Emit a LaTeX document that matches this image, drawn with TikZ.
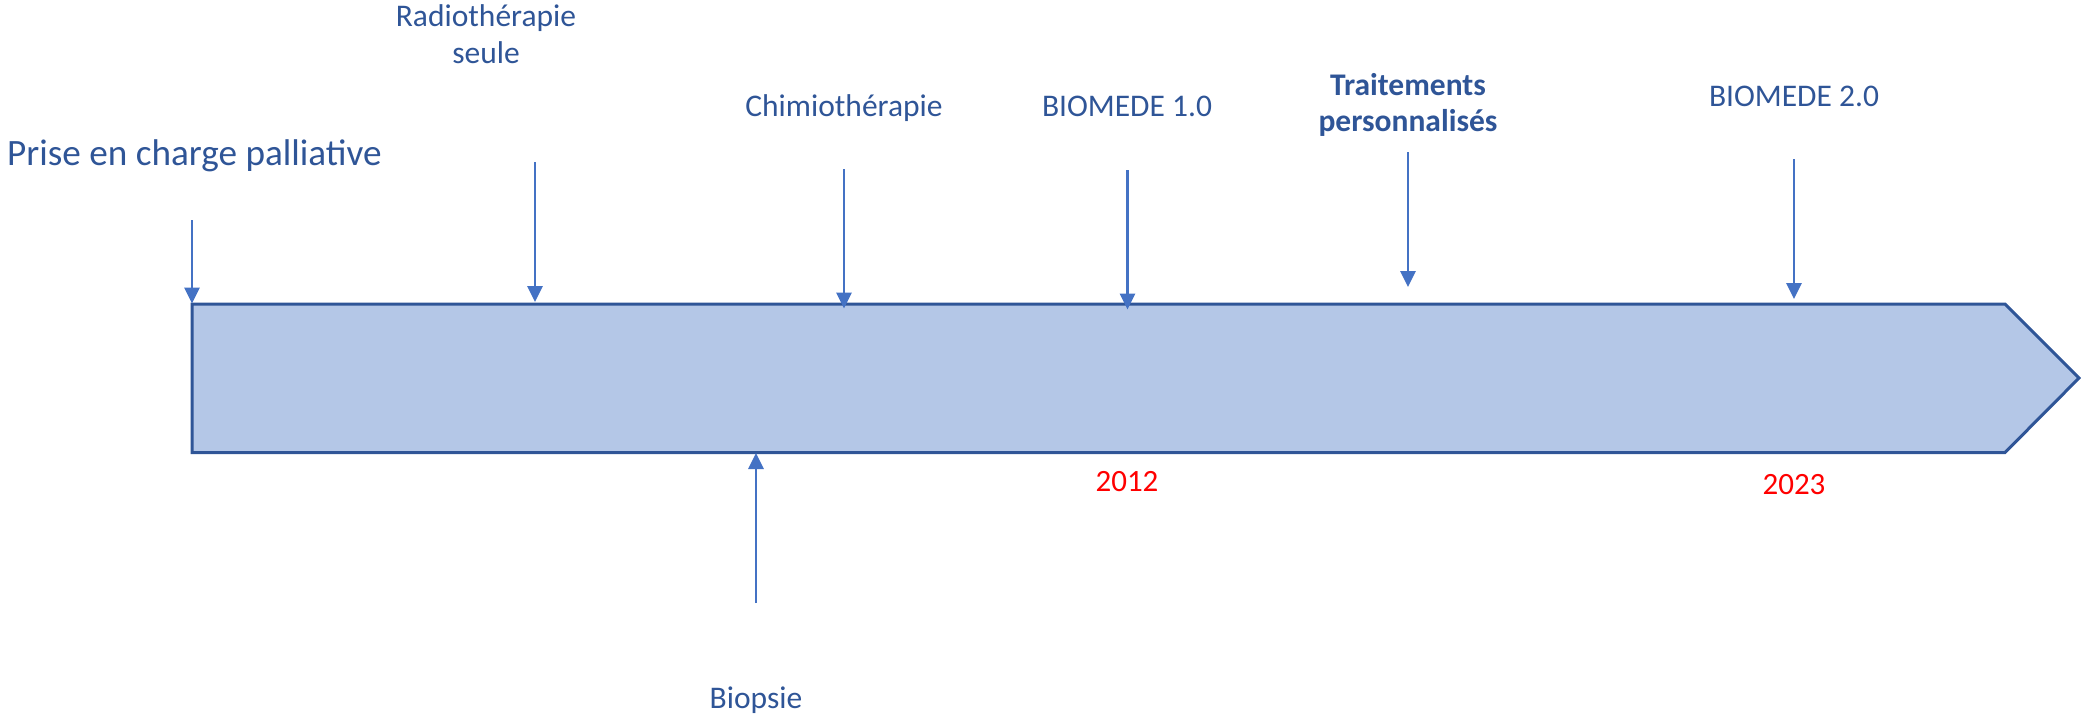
\documentclass[tikz,border=0pt]{standalone}
\usepackage{fontspec}
\setmainfont{Carlito}
\usetikzlibrary{arrows.meta}
\definecolor{txtblue}{HTML}{2F5597}
\definecolor{arrblue}{HTML}{4472C4}
\definecolor{boxfill}{HTML}{B4C7E7}
\definecolor{boxline}{HTML}{2F5597}
\tikzset{
  lbl/.style={inner sep=0pt, anchor=base, text=txtblue, font=\fontsize{31.5}{36.5}\selectfont, align=center},
  yearlbl/.style={inner sep=0pt, anchor=base, text=red, font=\fontsize{31}{36}\selectfont},
  evarrow/.style={draw=arrblue, line width=2.8pt, -{Triangle[width=15pt,length=16pt]}},
  timeline/.style={draw=boxline, fill=boxfill, line width=3pt, line join=miter}
}
\begin{document}
\begin{tikzpicture}[x=1pt,y=-1pt]
\useasboundingbox (0,0) rectangle (2081,721);
% timeline body
\draw[timeline] (192,304) -- (2005,304) -- (2079,378) -- (2005,452.5) -- (192,452.5) -- cycle;
% labels (multi-line nodes: base = baseline of last line)
\node[lbl, anchor=base west, font=\fontsize{37.2}{42}\selectfont] (prise) at (7,165.5) {Prise en charge palliative};
\node[lbl, anchor=base] (radio) at (486,63) {Radiothérapie\\seule};
\node[lbl] (chimio) at (844,116.7) {Chimiothérapie};
\node[lbl] (bio1) at (1127,116.7) {BIOMEDE 1.0};
\node[lbl, font=\bfseries\fontsize{31.5}{36.7}\selectfont] (trait) at (1408,131.7) {Traitements\\personnalisés};
\node[lbl] (bio2) at (1794,106.7) {BIOMEDE 2.0};
\node[yearlbl] (y2012) at (1127,491.7) {2012};
\node[yearlbl] (y2023) at (1794,494) {2023};
\node[lbl] (biopsie) at (756,708) {Biopsie};
% arrow coordinates
\coordinate (a1s) at (192,220);  \coordinate (a1e) at (192,303.5);
\coordinate (a2s) at (535,162);  \coordinate (a2e) at (535,302);
\coordinate (a3s) at (844,169);  \coordinate (a3e) at (844,308.5);
\coordinate (a4s) at (1127.5,170); \coordinate (a4e) at (1127.5,309.5);
\coordinate (a5s) at (1408,152); \coordinate (a5e) at (1408,287);
\coordinate (a6s) at (1794,159); \coordinate (a6e) at (1794,299);
\coordinate (a7s) at (756,603);  \coordinate (a7e) at (756,453);
\draw[evarrow] (a1s) -- (a1e);
\draw[evarrow] (a2s) -- (a2e);
\draw[evarrow] (a3s) -- (a3e);
\draw[evarrow] (a4s) -- (a4e);
\draw[evarrow] (a5s) -- (a5e);
\draw[evarrow] (a6s) -- (a6e);
\draw[evarrow] (a7s) -- (a7e);
\end{tikzpicture}
\end{document}
